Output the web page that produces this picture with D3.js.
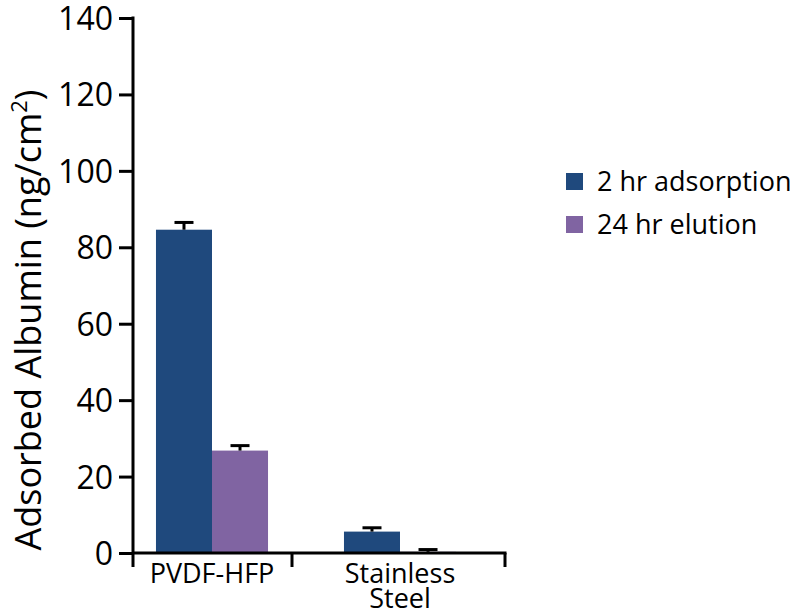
<!DOCTYPE html>
<html>
<head>
<meta charset="utf-8">
<script src="https://cdn.jsdelivr.net/npm/d3@7"></script>
<style>
  body { margin: 0; background: #fff; }
  svg { display: block; }
  text { font-family: "Open Sans", "Noto Sans", sans-serif; fill: #000; }
</style>
</head>
<body>
<svg id="chart" width="798" height="614"></svg>
<script>
// Albumin adsorbed on each surface (ng/cm²), mean and error
const categories = ["PVDF-HFP", "Stainless Steel"];
const series = ["2 hr adsorption", "24 hr elution"];
const adsorption = [84.6, 5.6];
const adsorptionErr = [1.9, 1.0];
const elution = [26.8, 0.3];
const elutionErr = [1.3, 0.6];
const yTicks = [0, 20, 40, 60, 80, 100, 120, 140];
const colors = ["#1f497d", "#8064a2"];

const rows = categories.map((c, i) => ({
  cat: c,
  vals: [
    { s: series[0], v: adsorption[i], e: adsorptionErr[i] },
    { s: series[1], v: elution[i], e: elutionErr[i] }
  ]
}));

const svg = d3.select("#chart");
const axisX = 133, baseY = 553, topY = 18, axisEnd = 505, midTick = 292;

const y = d3.scaleLinear().domain([0, 140]).range([baseY, topY]);
const x = d3.scaleBand().domain(categories).range([118, 494])
  .paddingInner(0.404).paddingOuter(0.202);
const xs = d3.scaleBand().domain(series).range([0, x.bandwidth()]);
const color = d3.scaleOrdinal().domain(series).range(colors);

// bars
const groups = svg.append("g").selectAll("g").data(rows).join("g")
  .attr("transform", d => `translate(${x(d.cat)},0)`);
groups.selectAll("rect").data(d => d.vals).join("rect")
  .attr("x", d => xs(d.s))
  .attr("y", d => y(d.v))
  .attr("width", xs.bandwidth())
  .attr("height", d => baseY - y(d.v))
  .attr("fill", d => color(d.s));

// error bars (upper only)
const err = groups.selectAll("g.err").data(d => d.vals).join("g").attr("class", "err");
err.append("line")
  .attr("x1", d => xs(d.s) + xs.bandwidth() / 2)
  .attr("x2", d => xs(d.s) + xs.bandwidth() / 2)
  .attr("y1", d => y(d.v))
  .attr("y2", d => y(d.v + d.e))
  .attr("stroke", "#000").attr("stroke-width", 3);
err.append("line")
  .attr("x1", d => xs(d.s) + xs.bandwidth() / 2 - 9.5)
  .attr("x2", d => xs(d.s) + xs.bandwidth() / 2 + 9.5)
  .attr("y1", d => y(d.v + d.e))
  .attr("y2", d => y(d.v + d.e))
  .attr("stroke", "#000").attr("stroke-width", 3);

// y axis
const yAxis = svg.append("g").attr("transform", `translate(${axisX},0)`)
  .call(d3.axisLeft(y).tickValues(yTicks).tickSize(14).tickPadding(6).tickSizeOuter(0));
yAxis.select(".domain").remove();
yAxis.selectAll(".tick line").attr("stroke", "#000").attr("stroke-width", 3);
yAxis.selectAll(".tick text").style("font-size", "32px")
  .attr("dy", "0.36em");
yAxis.append("line")
  .attr("x1", 0).attr("x2", 0).attr("y1", topY - 1.5).attr("y2", baseY + 14)
  .attr("stroke", "#000").attr("stroke-width", 3);

// x axis with boundary ticks
svg.append("line")
  .attr("x1", axisX).attr("x2", axisEnd + 1.5).attr("y1", baseY).attr("y2", baseY)
  .attr("stroke", "#000").attr("stroke-width", 3);
svg.append("g").selectAll("line").data([midTick, axisEnd]).join("line")
  .attr("x1", d => d).attr("x2", d => d).attr("y1", baseY).attr("y2", baseY + 14)
  .attr("stroke", "#000").attr("stroke-width", 3);

// category labels
const catLabels = svg.append("g").selectAll("text").data(categories).join("text")
  .attr("y", 583)
  .attr("text-anchor", "middle")
  .style("font-size", "27px");
catLabels.each(function(d) {
  const words = d === "Stainless Steel" ? ["Stainless", "Steel"] : [d];
  const t = d3.select(this);
  words.forEach((w, i) => t.append("tspan")
    .attr("x", x(d) + x.bandwidth() / 2)
    .attr("dy", i === 0 ? 0 : 25)
    .text(w));
});

// y axis title
svg.append("text")
  .attr("transform", "translate(41,320) rotate(-90)")
  .attr("text-anchor", "middle")
  .style("font-size", "36px")
  .html('Adsorbed Albumin (ng/cm<tspan dy="-14" font-size="22px">2</tspan><tspan dy="14">)</tspan>');

// legend
const legend = svg.append("g").selectAll("g").data(series).join("g")
  .attr("transform", (d, i) => `translate(566,${173 + i * 43})`);
legend.append("rect").attr("width", 17).attr("height", 17).attr("fill", d => color(d));
legend.append("text").attr("x", 31).attr("y", 8.5).attr("dy", "0.36em")
  .style("font-size", "27px").text(d => d);
</script>
</body>
</html>
